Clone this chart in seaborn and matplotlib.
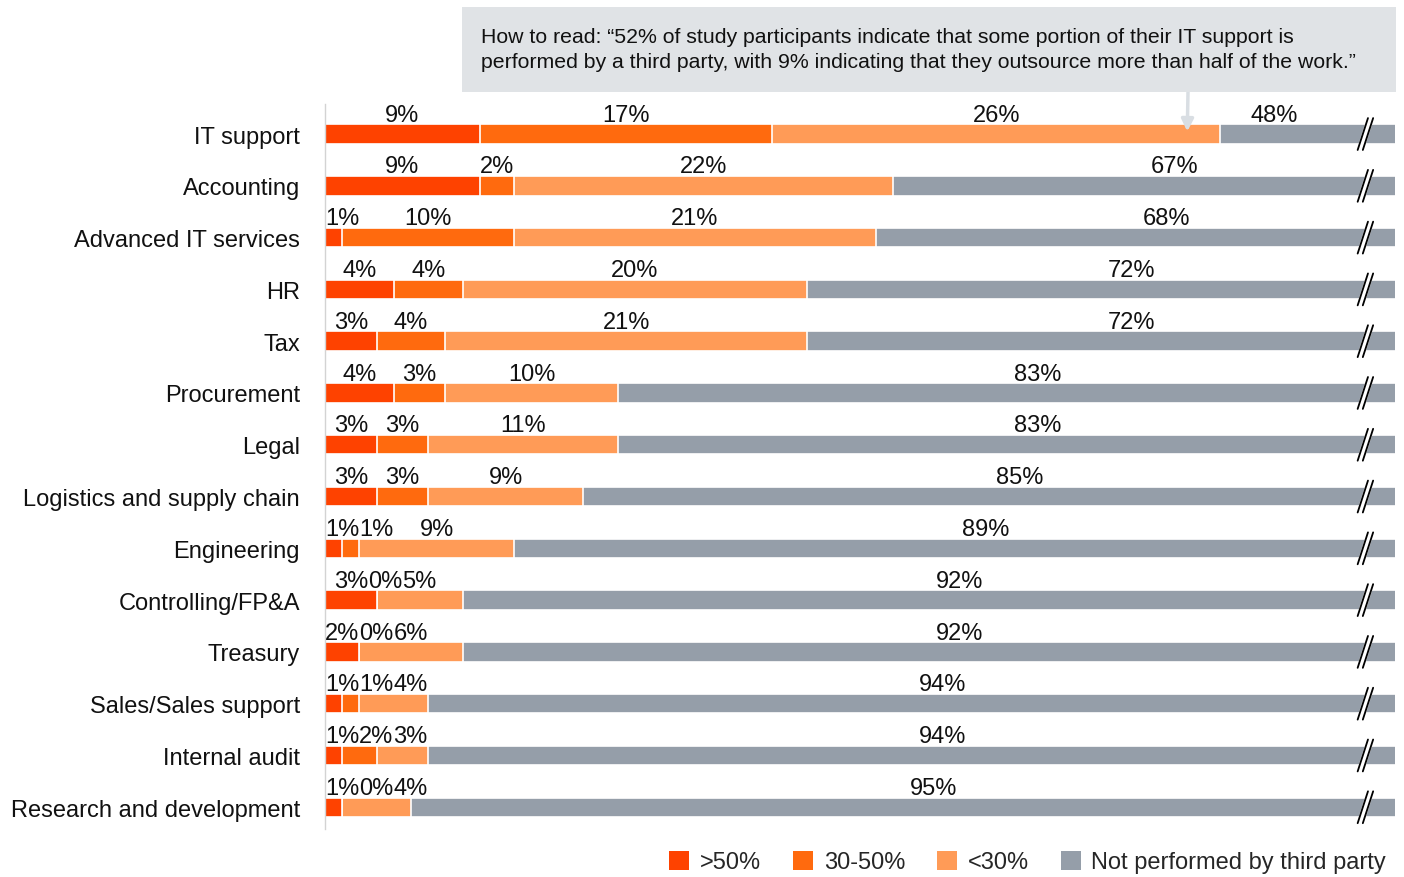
import numpy as np
import pandas as pd
import matplotlib
matplotlib.use("Agg")
import matplotlib.pyplot as plt
from matplotlib.patches import Rectangle, Patch
import seaborn as sns

categories = ["IT support", "Accounting", "Advanced IT services", "HR", "Tax",
              "Procurement", "Legal", "Logistics and supply chain", "Engineering",
              "Controlling/FP&A", "Treasury", "Sales/Sales support", "Internal audit",
              "Research and development"]
over50 = [9, 9, 1, 4, 3, 4, 3, 3, 1, 3, 2, 1, 1, 1]
mid3050 = [17, 2, 10, 4, 4, 3, 3, 3, 1, 0, 0, 1, 2, 0]
under30 = [26, 22, 21, 20, 21, 10, 11, 9, 9, 5, 6, 4, 3, 4]
not_third = [48, 67, 68, 72, 72, 83, 83, 85, 89, 92, 92, 94, 94, 95]
series_names = [">50%", "30-50%", "<30%", "Not performed by third party"]
colors = ["#FE4200", "#FF6A0E", "#FF9B57", "#959EA9"]
note = ("How to read: \u201c52% of study participants indicate that some portion of their IT support is\n"
        "performed by a third party, with 9% indicating that they outsource more than half of the work.\u201d")

sns.set_theme(style="white")
plt.rcParams["font.family"] = ["Liberation Sans", "DejaVu Sans"]

W, H = 1404, 878
fig = plt.figure(figsize=(W / 100, H / 100), dpi=100)
ax = fig.add_axes([325 / W, 1 - 830 / H, (1395 - 325) / W, (830 - 105) / H])

df = pd.DataFrame({"cat": categories, "a": over50, "b": mid3050, "c": under30, "d": not_third})
df["c1"] = df["a"]
df["c2"] = df["a"] + df["b"]
df["c3"] = df["c2"] + df["c"]
df["c4"] = df["c3"] + df["d"]

bw = 0.376
for col, colr in zip(["c4", "c3", "c2", "c1"], colors[::-1]):
    sns.barplot(data=df, y="cat", x=col, orient="h", color=colr, width=bw,
                edgecolor="white", linewidth=1.2, saturation=1, ax=ax, errorbar=None)

xmax = 62.17
ax.set_xlim(0, xmax)
ax.set_ylim(13.42, -0.58)
ax.set_xlabel("")
ax.set_ylabel("")
ax.set_xticks([])
for s in ["top", "right", "bottom"]:
    ax.spines[s].set_visible(False)
ax.spines["left"].set_color("#D3D3D3")
ax.spines["left"].set_linewidth(1.0)
ax.tick_params(axis="y", length=0, pad=18, labelsize=17, labelcolor="#111111")

# value labels
renderer = fig.canvas.get_renderer()
px_per_unit = (1395 - 325) / xmax
fs = 17
for i in range(len(categories)):
    vals = [over50[i], mid3050[i], under30[i]]
    start = 0.0
    prev_right = 0.0
    ly = i - bw / 2 - 0.07
    for v in vals:
        t = ax.text(0, ly, f"{v}%", fontsize=fs, ha="left", va="baseline", color="#111111")
        w = t.get_window_extent(renderer=renderer).width / px_per_unit
        c = start + v / 2
        left = max(c - w / 2, prev_right)
        t.set_x(left)
        prev_right = left + w
        start += v
    gx = min((start + xmax) / 2 + 1.8, xmax - 7)
    ax.text(gx, ly, f"{not_third[i]}%", fontsize=fs, ha="center", va="baseline", color="#111111")

    # axis break marks
    bx = 60.3
    dx = 0.3
    dy = bw / 2 + 0.12
    ax.plot([bx - dx + 0.15, bx + dx + 0.15], [i + dy, i - dy], color="white", lw=5,
            solid_capstyle="butt", zorder=5, clip_on=False)
    for off in (0.0, 0.3):
        ax.plot([bx - dx + off, bx + dx + off], [i + dy, i - dy], color="black", lw=1.3,
                zorder=6, clip_on=False)

# note box
fig.patches.append(Rectangle((462 / W, 1 - 93 / H), (1396 - 462) / W, (93 - 8) / H,
                             transform=fig.transFigure, facecolor="#E0E3E6",
                             edgecolor="none", zorder=0))
fig.text(481 / W, 1 - 50 / H, note, fontsize=15.3, ha="left", va="center",
         color="#111111", linespacing=1.4)
ax.annotate("", xy=(50.1, -0.05), xycoords="data",
            xytext=(1188 / W, 1 - 93 / H), textcoords="figure fraction",
            arrowprops=dict(arrowstyle="-|>,head_length=0.6,head_width=0.3",
                            color="#D9DEE3", lw=2.5, shrinkA=0, shrinkB=0), zorder=7)

handles = [Patch(facecolor=c, edgecolor="none") for c in colors]
fig.legend(handles, series_names, ncol=4, loc="center right",
           bbox_to_anchor=(1386 / W, 1 - 863 / H), frameon=False, fontsize=17,
           handlelength=0.85, handleheight=0.85, handletextpad=0.45,
           columnspacing=1.35, borderaxespad=0, borderpad=0)

fig.savefig("out.png", dpi=100)
